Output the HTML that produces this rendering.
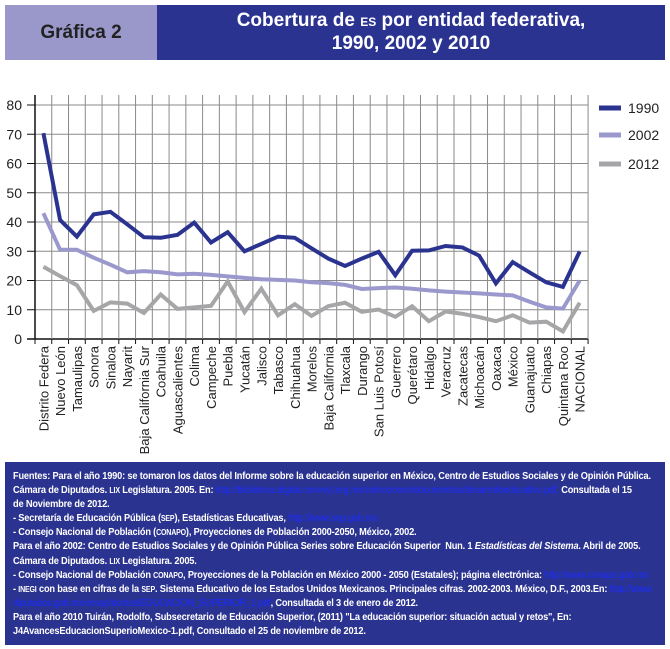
<!DOCTYPE html>
<html><head><meta charset="utf-8">
<style>
body{margin:0;background:#fff;width:670px;height:649px;overflow:hidden;font-family:"Liberation Sans",sans-serif;}
#hdr1{position:absolute;left:5px;top:5px;width:152px;height:55px;background:#9a98cb;color:#222;font-size:19px;font-weight:bold;display:flex;align-items:center;justify-content:center;}
#hdr2{position:absolute;left:157px;top:5px;width:508px;height:55px;background:#2b3390;color:#fff;font-size:19px;font-weight:bold;text-align:center;line-height:22px;display:flex;flex-direction:column;justify-content:center;}
#foot{position:absolute;left:5px;top:462px;width:660px;height:183px;background:#2b3390;overflow:hidden;}
#ft{position:absolute;left:8px;top:7px;color:#fff;font-size:10.5px;font-weight:bold;line-height:14.1px;white-space:nowrap;transform:scaleX(0.88);transform-origin:0 0;letter-spacing:-0.2px;}
#ft div{height:14.1px;}
#ft span.a{color:#1a2cff;font-weight:normal;}
.sc{font-size:8px;line-height:0;}
</style></head><body>
<div id="hdr1">Gráfica 2</div>
<div id="hdr2"><div>Cobertura de <span style="font-size:12px">ES</span> por entidad federativa,</div><div>1990, 2002 y 2010</div></div>
<svg id="c" width="670" height="462" style="position:absolute;left:0;top:0" xmlns="http://www.w3.org/2000/svg"></svg>
<div id="foot"><div id="ft">
<div>Fuentes: Para el año 1990: se tomaron los datos del Informe sobre la educación superior en México, Centro de Estudios Sociales y de Opinión Pública.</div>
<div>Cámara de Diputados. <span class="sc">LIX</span> Legislatura. 2005. En: <span class="a">http://biblioteca.digital.conevyt.org.mx/colecciones/documentos/desarrolloeducativo.pdf,</span> Consultada el 15</div>
<div>de Noviembre de 2012.</div>
<div>- Secretaría de Educación Pública (<span class="sc">SEP</span>), Estadísticas Educativas, <span class="a">http://www.sep.gob.mx</span></div>
<div>- Consejo Nacional de Población (<span class="sc">CONAPO</span>), Proyecciones de Población 2000-2050, México, 2002.</div>
<div>Para el año 2002: Centro de Estudios Sociales y de Opinión Pública Series sobre Educación Superior&nbsp; Nun. 1 <i>Estadísticas del Sistema</i>. Abril de 2005.</div>
<div>Cámara de Diputados. <span class="sc">LIX</span> Legislatura. 2005.</div>
<div>- Consejo Nacional de Población <span class="sc">CONAPO</span>, Proyecciones de la Población en México 2000 - 2050 (Estatales); página electrónica: <span class="a">http://www.conapo.gob.mx</span></div>
<div>- <span class="sc">INEGI</span> con base en cifras de la <span class="sc">SEP</span>. Sistema Educativo de los Estados Unidos Mexicanos. Principales cifras. 2002-2003. México, D.F., 2003.En: <span class="a">http://www.</span></div>
<div><span class="a">diputados.gob.mx/cesop/doctos/EDUCACION_SUPERIOR_1.pdf</span>, Consultada el 3 de enero de 2012.</div>
<div>Para el año 2010 Tuirán, Rodolfo, Subsecretario de Educación Superior, (2011) "La educación superior: situación actual y retos", En:</div>
<div>J4AvancesEducacionSuperioMexico-1.pdf, Consultado el 25 de noviembre de 2012.</div>
</div></div>
<script>
var names=["Distrito Federa","Nuevo León","Tamaulipas","Sonora","Sinaloa","Nayarit","Baja California Sur","Coahuila","Aguascalientes","Colima","Campeche","Puebla","Yucatán","Jalisco","Tabasco","Chihuahua","Morelos","Baja California","Tlaxcala","Durango","San Luis Potosí","Guerrero","Querétaro","Hidalgo","Veracruz","Zacatecas","Michoacán","Oaxaca","México","Guanajuato","Chiapas","Quintana Roo","NACIONAL"];
var d90=[70.4,40.7,35,42.6,43.5,39.2,34.8,34.6,35.6,39.8,33,36.5,30,32.5,35,34.6,31,27.5,25,27.5,29.8,21.8,30.2,30.3,31.8,31.3,28.5,19,26.3,22.8,19.4,17.8,29.9];
var d02=[43,30.5,30.5,27.8,25.4,22.8,23.2,22.8,22.1,22.3,21.9,21.4,20.9,20.4,20.2,20,19.4,19.1,18.5,17.1,17.4,17.6,17.2,16.6,16.2,15.9,15.6,15.2,14.9,12.8,10.8,10.4,20];
var d12=[24.7,21.5,18.4,9.6,12.5,12.1,8.9,15.2,10.3,10.8,11.3,19.7,9.2,17.2,8.1,11.9,7.9,11.2,12.4,9.3,10.1,7.6,11.2,6.1,9.4,8.6,7.5,6.1,8.1,5.6,5.9,2.6,12.4];
var L=35,W=16.76,Y0=339,S=2.925,h='';
function yv(v){return Y0-v*S}
for(var i=0;i<=8;i++){var y=yv(i*10);h+='<line x1="'+(i==0?27:L)+'" x2="588" y1="'+y+'" y2="'+y+'" stroke="'+(i==0?'#111':'#8a8a8a')+'" stroke-width="'+(i==0?1.5:1)+'"/>';h+='<text x="22" y="'+(y+5)+'" text-anchor="end" font-size="14" fill="#222">'+i*10+'</text>';h+='<line x1="27" x2="35" y1="'+y+'" y2="'+y+'" stroke="#111"/>';}
for(var i=0;i<=33;i++){var x=L+i*W;h+='<line x1="'+x+'" x2="'+x+'" y1="95" y2="'+Y0+'" stroke="'+(i==0?'#111':'#8a8a8a')+'" stroke-width="'+(i==0?1.5:1)+'"/>';h+='<line x1="'+x+'" x2="'+x+'" y1="'+Y0+'" y2="'+(Y0+5)+'" stroke="#111"/>';}
function pl(d,c){var p=d.map(function(v,i){return (L+W*(i+0.5)).toFixed(1)+','+yv(v).toFixed(1)}).join(' ');return '<polyline points="'+p+'" fill="none" stroke="'+c+'" stroke-width="4" stroke-linejoin="miter"/>';}
h+=pl(d12,'#a6a6a8')+pl(d02,'#9a98cc')+pl(d90,'#2b3390');
names.forEach(function(n,i){var x=L+W*(i+0.5)+5;h+='<text transform="translate('+x+',346) rotate(-90)" text-anchor="end" font-size="13" fill="#222">'+n+'</text>';});
[['1990','#2b3390',108],['2002','#9a98cc',135],['2012','#a6a6a8',164]].forEach(function(l){h+='<line x1="599" x2="621" y1="'+l[2]+'" y2="'+l[2]+'" stroke="'+l[1]+'" stroke-width="5"/><text x="628" y="'+(l[2]+5)+'" font-size="14" fill="#222">'+l[0]+'</text>';});
document.getElementById('c').innerHTML=h;
</script>
</body></html>
